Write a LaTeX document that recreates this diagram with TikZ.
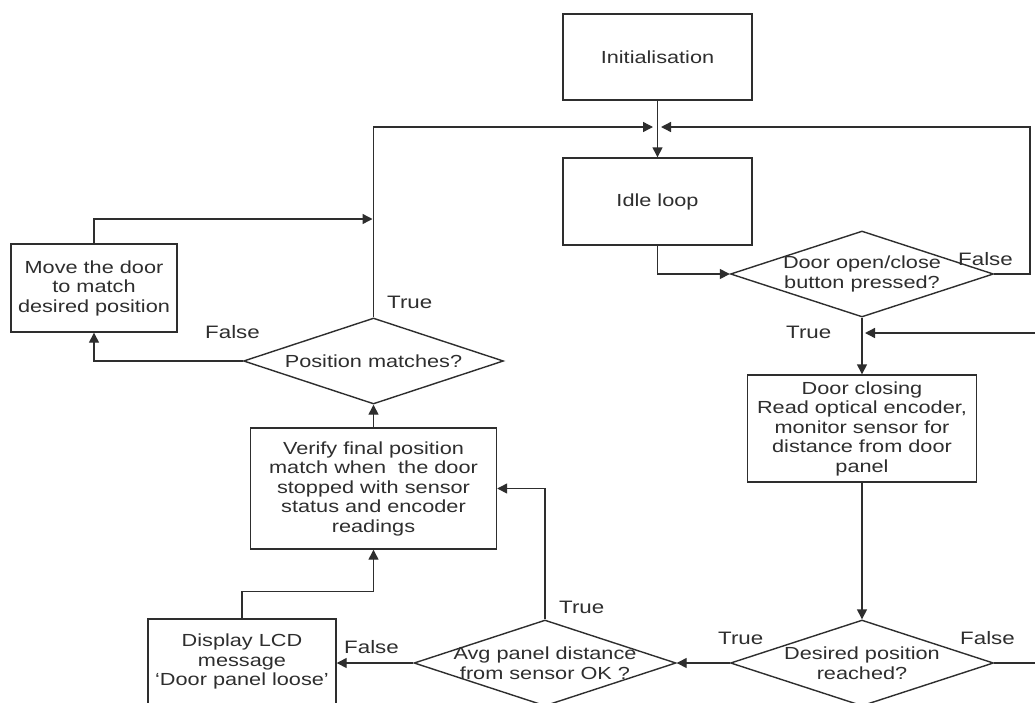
\documentclass[tikz,border=0pt]{standalone}
\usepackage{fontspec}
\setmainfont{Liberation Sans}[FakeStretch=1.24]
\usetikzlibrary{arrows.meta,shapes.geometric}

\begin{document}
\begin{tikzpicture}[x=1pt,y=-1pt,
  ink/.style={draw=black!82,line width=1.4pt},
  flow/.style={ink},
  arr/.style={ink,-{Triangle[length=10pt,width=10pt]}},
  txt/.style={inner sep=0pt,align=center,text=black!82,
    font=\fontsize{17.5}{19.5}\selectfont},
  box/.style={ink,rectangle,txt},
  decision/.style={ink,diamond,inner sep=0pt},
  lbl/.style={inner sep=0pt,anchor=west,text=black!82,
    font=\fontsize{18}{20}\selectfont},
]
% page frame
\path[use as bounding box] (0,0) rectangle (1035,702);
\fill[white] (0,0) rectangle (1035,702);
\clip (0,0) rectangle (1035,702);

% main column
\node[box,minimum width=189pt,minimum height=86pt] (init) at (657.5,57) {Initialisation};
\node[box,minimum width=189pt,minimum height=87pt] (idle) at (657.5,201.5) {Idle loop};

\node[decision,minimum width=263pt,minimum height=86pt] (dq) at (862,274) {};
\node[txt] (dqt) at (dq.center) {Door open/close\\button pressed?};

\node[box,minimum width=229pt,minimum height=107pt] (close) at (862,428.5)
  {Door closing\\Read optical encoder,\\monitor sensor for\\distance from door\\panel};

\node[decision,minimum width=263pt,minimum height=86pt] (des) at (862,663) {};
\node[txt] (dest) at (des.center) {Desired position\\reached?};

\node[decision,minimum width=262pt,minimum height=86pt] (avg) at (545,663) {};
\node[txt] (avgt) at (avg.center) {Avg panel distance\\from sensor OK ?};

\node[box,minimum width=188pt,minimum height=85pt] (disp) at (242,661.5)
  {Display LCD\\message\\`Door panel loose'};

\node[box,minimum width=246pt,minimum height=121pt] (ver) at (373.5,488.5)
  {Verify final position\\match when\ \ the door\\stopped with sensor\\status and encoder\\readings};

\node[decision,minimum width=260pt,minimum height=86pt] (pos) at (373.5,361) {};
\node[txt] (post) at (pos.center) {Position matches?};

\node[box,minimum width=166pt,minimum height=88pt] (move) at (94,288)
  {Move the door\\to match\\desired position};

% branch labels
\node[lbl] (posTrue)  at (387,302) {True};
\node[lbl] (posFalse) at (205,332) {False};
\node[lbl] (dqFalse)  at (958,259) {False};
\node[lbl] (dqTrue)   at (786,332) {True};
\node[lbl] (desTrue)  at (718,638) {True};
\node[lbl] (desFalse) at (960,638) {False};
\node[lbl] (avgTrue)  at (559,607) {True};
\node[lbl] (avgFalse) at (344,647) {False};

% junction points
\coordinate (jl) at (653,127);
\coordinate (jr) at (661,127);
\coordinate (rc) at (1030,127);
\coordinate (inR) at (1035,333);
\coordinate (inL) at (865,333);
\coordinate (desR) at (1035,663);
\coordinate (ml) at (372.5,219);

% connectors
\draw[arr] (init) -- (idle);
\draw[arr] (pos.north) |- (jl);
\draw[arr] (dq.east) -| (rc) -- (jr);
\draw[arr] (idle.south) |- (dq.west);
\draw[arr] (dq.south) -- (close.north);
\draw[arr] (inR) -- (inL);
\draw[arr] (close.south) -- (des.north);
\draw[arr] (des.west) -- (avg.east);
\draw[flow] (des.east) -- (desR);
\draw[arr] (avg.west) -- (avg.west -| disp.east);
\draw[arr] (avg.north) |- (ver.east);
\draw[arr] (disp.north) -- ++(0,-27) -| (ver.south);
\draw[arr] (ver.north) -- (pos.south);
\draw[arr] (pos.west) -| (move.south);
\draw[arr] (move.north) |- (ml);
\end{tikzpicture}
\end{document}
